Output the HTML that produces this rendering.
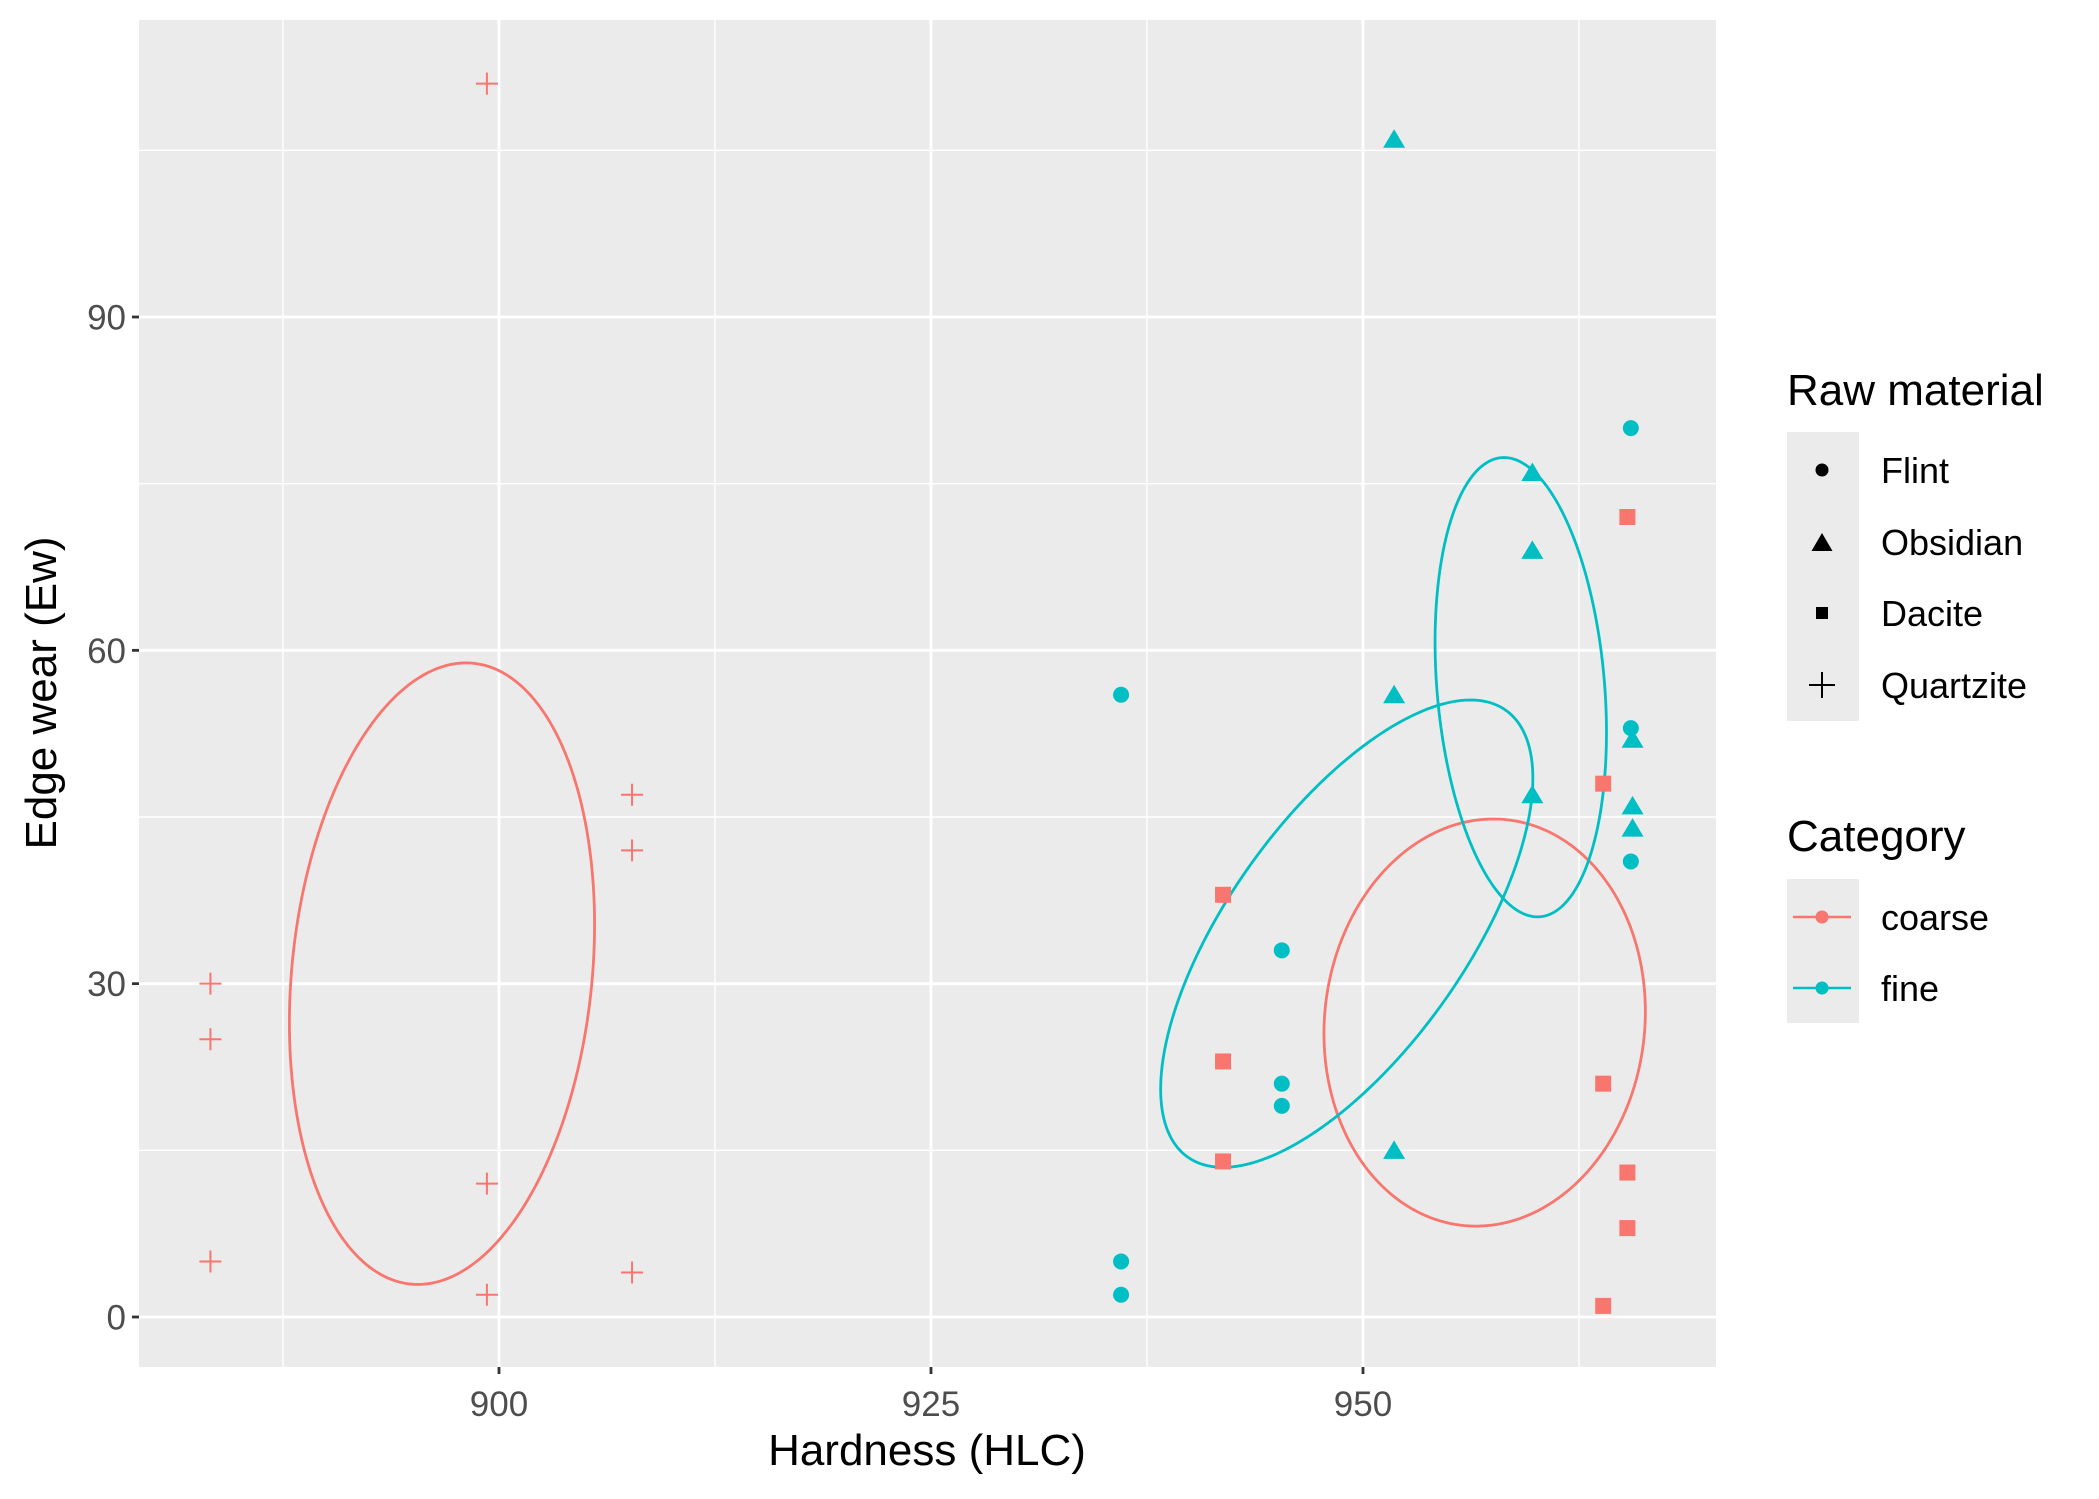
<!DOCTYPE html>
<html><head><meta charset="utf-8"><style>
html,body{margin:0;padding:0;background:#fff;}
svg{display:block;font-family:"Liberation Sans",Arial,sans-serif;}
</style></head><body>
<svg id="chart" width="2099" height="1499" viewBox="0 0 2099 1499" xmlns="http://www.w3.org/2000/svg">
<rect x="0" y="0" width="2099" height="1499" fill="#fff"/>
<rect x="139" y="20" width="1577" height="1347" fill="#EBEBEB"/>
<g id="grid"></g>
<g id="ellipses"></g>
<g id="points"></g>
<g id="axes"></g>
<text x="927" y="1465" font-size="44" text-anchor="middle" fill="#000">Hardness (HLC)</text>
<text transform="translate(56,693) rotate(-90)" font-size="44" text-anchor="middle" fill="#000">Edge wear (Ew)</text>
<g>
<text x="1787" y="405" font-size="44" fill="#000">Raw material</text>
<rect x="1787" y="432" width="72" height="289" fill="#EBEBEB"/>
<g><circle cx="1822" cy="470" r="6.5" fill="#000"/><text x="1881" y="483" font-size="36">Flint</text></g>
<g><polygon points="1822,533 1832.5,551 1811.5,551" fill="#000"/><text x="1881" y="555" font-size="36">Obsidian</text></g>
<g><rect x="1816" y="607" width="12" height="12" fill="#000"/><text x="1881" y="626" font-size="36">Dacite</text></g>
<g><path d="M1809,685h26M1822,672v26" stroke="#000" stroke-width="2"/><text x="1881" y="698" font-size="36">Quartzite</text></g>
</g>
<g>
<text x="1787" y="851" font-size="44" fill="#000">Category</text>
<rect x="1787" y="879" width="72" height="144" fill="#EBEBEB"/>
<g><path d="M1793,917h58" stroke="#F8766D" stroke-width="2.6"/><circle cx="1822" cy="917" r="6.5" fill="#F8766D"/><text x="1881" y="930" font-size="36">coarse</text></g>
<g><path d="M1793,988h58" stroke="#00BFC4" stroke-width="2.6"/><circle cx="1822" cy="988" r="6.5" fill="#00BFC4"/><text x="1881" y="1001" font-size="36">fine</text></g>
</g>
<script>
const xTicks=[900,925,950];
const xMinor=[887.5,912.5,937.5,962.5];
const yTicks=[0,30,60,90];
const yMinor=[15,45,75,105];
const categories=["coarse","fine"];
const materials=["Flint","Obsidian","Dacite","Quartzite"];
const quartziteX=[883.3,883.3,883.3,899.3,899.3,899.3,907.7,907.7,907.7];
const quartziteY=[30,25,5,111,12,2,47,42,4];
const daciteX=[941.9,941.9,941.9,963.9,963.9,963.9,965.3,965.3,965.3];
const daciteY=[38,23,14,48,21,1,72,13,8];
const flintX=[936.0,936.0,936.0,945.3,945.3,945.3,965.5,965.5,965.5];
const flintY=[56,5,2,33,21,19,80,53,41];
const obsidianX=[951.8,951.8,951.8,959.8,959.8,959.8,965.6,965.6,965.6];
const obsidianY=[106,56,15,76,69,47,52,46,44];
// ellipses: center x, center y, half-extent x, half-extent y, correlation (data units)
const ellQuartzite=[896.7,30.9,8.83,27.97,0.158];
const ellDacite=[957.04,26.5,9.30,18.32,0.054];
const ellFlint=[949.06,34.5,10.77,21.03,0.665];
const ellObsidian=[959.13,56.68,4.96,20.67,-0.196];

const X0=139,X1=1716,Y0=20,Y1=1367;
const xs=v=>499+(v-900)*17.28;
const ys=v=>1317-v*(1000/90);
const NS="http://www.w3.org/2000/svg";
function mk(tag,attrs,parent){const e=document.createElementNS(NS,tag);for(const k in attrs)e.setAttribute(k,attrs[k]);parent.appendChild(e);return e;}
const grid=document.getElementById('grid');
xMinor.forEach(v=>{const l=mk('line',{x1:xs(v),x2:xs(v),y1:Y0,y2:Y1,stroke:'#fff','stroke-width':1.4},grid);

});
yMinor.forEach(v=>{const l=mk('line',{x1:X0,x2:X1,y1:ys(v),y2:ys(v),stroke:'#fff','stroke-width':1.4},grid);

});
xTicks.forEach(v=>{const l=mk('line',{x1:xs(v),x2:xs(v),y1:Y0,y2:Y1,stroke:'#fff','stroke-width':2.8},grid);

});
yTicks.forEach(v=>{const l=mk('line',{x1:X0,x2:X1,y1:ys(v),y2:ys(v),stroke:'#fff','stroke-width':2.8},grid);

});
const axes=document.getElementById('axes');
xTicks.forEach(v=>{mk('line',{x1:xs(v),x2:xs(v),y1:Y1,y2:Y1+7,stroke:'#333','stroke-width':2.8},axes);
const t=mk('text',{x:xs(v),y:1416,'font-size':35,'text-anchor':'middle',fill:'#4D4D4D'},axes);t.textContent=v;

});
yTicks.forEach(v=>{mk('line',{x1:X0-7,x2:X0,y1:ys(v),y2:ys(v),stroke:'#333','stroke-width':2.8},axes);
const t=mk('text',{x:X0-13,y:ys(v)+12.5,'font-size':35,'text-anchor':'end',fill:'#4D4D4D'},axes);t.textContent=v;

});
const eg=document.getElementById('ellipses');
function ellipse(p,color,name){
  const [cx,cy,hx,hy,r]=p;let d='';
  for(let i=0;i<=200;i++){const t=i/200*2*Math.PI;const c=Math.cos(t),s=Math.sin(t);
    const dx=hx*c, dy=hy*(r*c+Math.sqrt(1-r*r)*s);
    d+=(i?'L':'M')+xs(cx+dx).toFixed(2)+','+ys(cy+dy).toFixed(2);}
  const e=mk('path',{d:d+'Z',fill:'none',stroke:color,'stroke-width':2.8},eg);
  
  
}
ellipse(ellQuartzite,'#F8766D','ellipse-quartzite');
ellipse(ellDacite,'#F8766D','ellipse-dacite');
ellipse(ellFlint,'#00BFC4','ellipse-flint');
ellipse(ellObsidian,'#00BFC4','ellipse-obsidian');
const pg=document.getElementById('points');
quartziteX.forEach((v,i)=>{const x=xs(v),y=ys(quartziteY[i]);
const e=mk('path',{d:`M${x-11},${y}h22M${x},${y-11}v22`,stroke:'#F8766D','stroke-width':2},pg);

});
daciteX.forEach((v,i)=>{const x=xs(v),y=ys(daciteY[i]);
const e=mk('rect',{x:x-8,y:y-8,width:16,height:16,fill:'#F8766D'},pg);

});
flintX.forEach((v,i)=>{const e=mk('circle',{cx:xs(v),cy:ys(flintY[i]),r:8,fill:'#00BFC4'},pg);

});
obsidianX.forEach((v,i)=>{const x=xs(v),y=ys(obsidianY[i]);
const e=mk('polygon',{points:`${x},${y-10} ${x+11},${y+8.5} ${x-11},${y+8.5}`,fill:'#00BFC4'},pg);

});
</script>
</svg>
</body></html>
